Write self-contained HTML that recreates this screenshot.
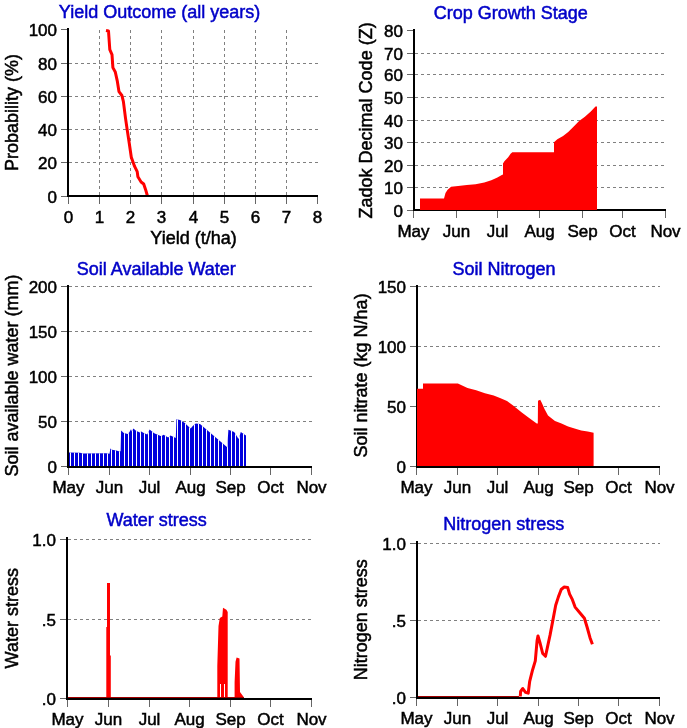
<!DOCTYPE html><html><head><meta charset="utf-8"><style>html,body{margin:0;padding:0;background:#fff;overflow:hidden}svg{display:block;will-change:transform}.t{font-family:"Liberation Sans", sans-serif;font-size:17px;fill:#000;stroke:#000;stroke-width:0.5px} .la{font-family:"Liberation Sans", sans-serif;font-size:18px;fill:#000;stroke:#000;stroke-width:0.5px} .ti{font-family:"Liberation Sans", sans-serif;font-size:18px;fill:#0000c8;stroke:#0000c8;stroke-width:0.5px}</style></head><body>
<svg width="687" height="728" viewBox="0 0 687 728">
<rect width="687" height="728" fill="#fff"/>
<path d="M69 162.5h3M75 162.5h3M81 162.5h3M87 162.5h3M93 162.5h3M99 162.5h3M105 162.5h3M111 162.5h3M117 162.5h3M123 162.5h3M129 162.5h3M135 162.5h3M141 162.5h3M147 162.5h3M153 162.5h3M159 162.5h3M165 162.5h3M171 162.5h3M177 162.5h3M183 162.5h3M189 162.5h3M195 162.5h3M201 162.5h3M207 162.5h3M213 162.5h3M219 162.5h3M225 162.5h3M231 162.5h3M237 162.5h3M243 162.5h3M249 162.5h3M255 162.5h3M261 162.5h3M267 162.5h3M273 162.5h3M279 162.5h3M285 162.5h3M291 162.5h3M297 162.5h3M303 162.5h3M309 162.5h3M315 162.5h3M69 129.5h3M75 129.5h3M81 129.5h3M87 129.5h3M93 129.5h3M99 129.5h3M105 129.5h3M111 129.5h3M117 129.5h3M123 129.5h3M129 129.5h3M135 129.5h3M141 129.5h3M147 129.5h3M153 129.5h3M159 129.5h3M165 129.5h3M171 129.5h3M177 129.5h3M183 129.5h3M189 129.5h3M195 129.5h3M201 129.5h3M207 129.5h3M213 129.5h3M219 129.5h3M225 129.5h3M231 129.5h3M237 129.5h3M243 129.5h3M249 129.5h3M255 129.5h3M261 129.5h3M267 129.5h3M273 129.5h3M279 129.5h3M285 129.5h3M291 129.5h3M297 129.5h3M303 129.5h3M309 129.5h3M315 129.5h3M69 96.5h3M75 96.5h3M81 96.5h3M87 96.5h3M93 96.5h3M99 96.5h3M105 96.5h3M111 96.5h3M117 96.5h3M123 96.5h3M129 96.5h3M135 96.5h3M141 96.5h3M147 96.5h3M153 96.5h3M159 96.5h3M165 96.5h3M171 96.5h3M177 96.5h3M183 96.5h3M189 96.5h3M195 96.5h3M201 96.5h3M207 96.5h3M213 96.5h3M219 96.5h3M225 96.5h3M231 96.5h3M237 96.5h3M243 96.5h3M249 96.5h3M255 96.5h3M261 96.5h3M267 96.5h3M273 96.5h3M279 96.5h3M285 96.5h3M291 96.5h3M297 96.5h3M303 96.5h3M309 96.5h3M315 96.5h3M69 63.5h3M75 63.5h3M81 63.5h3M87 63.5h3M93 63.5h3M99 63.5h3M105 63.5h3M111 63.5h3M117 63.5h3M123 63.5h3M129 63.5h3M135 63.5h3M141 63.5h3M147 63.5h3M153 63.5h3M159 63.5h3M165 63.5h3M171 63.5h3M177 63.5h3M183 63.5h3M189 63.5h3M195 63.5h3M201 63.5h3M207 63.5h3M213 63.5h3M219 63.5h3M225 63.5h3M231 63.5h3M237 63.5h3M243 63.5h3M249 63.5h3M255 63.5h3M261 63.5h3M267 63.5h3M273 63.5h3M279 63.5h3M285 63.5h3M291 63.5h3M297 63.5h3M303 63.5h3M309 63.5h3M315 63.5h3" stroke="#808080" stroke-width="1" fill="none"/>
<path d="M99.5 30v3M99.5 36v3M99.5 42v3M99.5 48v3M99.5 54v3M99.5 60v3M99.5 66v3M99.5 72v3M99.5 78v3M99.5 84v3M99.5 90v3M99.5 96v3M99.5 102v3M99.5 108v3M99.5 114v3M99.5 120v3M99.5 126v3M99.5 132v3M99.5 138v3M99.5 144v3M99.5 150v3M99.5 156v3M99.5 162v3M99.5 168v3M99.5 174v3M99.5 180v3M99.5 186v3M99.5 192v3M130.5 30v3M130.5 36v3M130.5 42v3M130.5 48v3M130.5 54v3M130.5 60v3M130.5 66v3M130.5 72v3M130.5 78v3M130.5 84v3M130.5 90v3M130.5 96v3M130.5 102v3M130.5 108v3M130.5 114v3M130.5 120v3M130.5 126v3M130.5 132v3M130.5 138v3M130.5 144v3M130.5 150v3M130.5 156v3M130.5 162v3M130.5 168v3M130.5 174v3M130.5 180v3M130.5 186v3M130.5 192v3M161.5 30v3M161.5 36v3M161.5 42v3M161.5 48v3M161.5 54v3M161.5 60v3M161.5 66v3M161.5 72v3M161.5 78v3M161.5 84v3M161.5 90v3M161.5 96v3M161.5 102v3M161.5 108v3M161.5 114v3M161.5 120v3M161.5 126v3M161.5 132v3M161.5 138v3M161.5 144v3M161.5 150v3M161.5 156v3M161.5 162v3M161.5 168v3M161.5 174v3M161.5 180v3M161.5 186v3M161.5 192v3M193.5 30v3M193.5 36v3M193.5 42v3M193.5 48v3M193.5 54v3M193.5 60v3M193.5 66v3M193.5 72v3M193.5 78v3M193.5 84v3M193.5 90v3M193.5 96v3M193.5 102v3M193.5 108v3M193.5 114v3M193.5 120v3M193.5 126v3M193.5 132v3M193.5 138v3M193.5 144v3M193.5 150v3M193.5 156v3M193.5 162v3M193.5 168v3M193.5 174v3M193.5 180v3M193.5 186v3M193.5 192v3M224.5 30v3M224.5 36v3M224.5 42v3M224.5 48v3M224.5 54v3M224.5 60v3M224.5 66v3M224.5 72v3M224.5 78v3M224.5 84v3M224.5 90v3M224.5 96v3M224.5 102v3M224.5 108v3M224.5 114v3M224.5 120v3M224.5 126v3M224.5 132v3M224.5 138v3M224.5 144v3M224.5 150v3M224.5 156v3M224.5 162v3M224.5 168v3M224.5 174v3M224.5 180v3M224.5 186v3M224.5 192v3M255.5 30v3M255.5 36v3M255.5 42v3M255.5 48v3M255.5 54v3M255.5 60v3M255.5 66v3M255.5 72v3M255.5 78v3M255.5 84v3M255.5 90v3M255.5 96v3M255.5 102v3M255.5 108v3M255.5 114v3M255.5 120v3M255.5 126v3M255.5 132v3M255.5 138v3M255.5 144v3M255.5 150v3M255.5 156v3M255.5 162v3M255.5 168v3M255.5 174v3M255.5 180v3M255.5 186v3M255.5 192v3M286.5 30v3M286.5 36v3M286.5 42v3M286.5 48v3M286.5 54v3M286.5 60v3M286.5 66v3M286.5 72v3M286.5 78v3M286.5 84v3M286.5 90v3M286.5 96v3M286.5 102v3M286.5 108v3M286.5 114v3M286.5 120v3M286.5 126v3M286.5 132v3M286.5 138v3M286.5 144v3M286.5 150v3M286.5 156v3M286.5 162v3M286.5 168v3M286.5 174v3M286.5 180v3M286.5 186v3M286.5 192v3" stroke="#808080" stroke-width="1" fill="none"/>
<polyline points="106.0,30.5 108.5,31.0 109.8,49.7 112.0,54.7 112.9,67.6 115.3,72.0 117.2,80.6 119.0,91.7 121.9,95.5 123.4,101.6 125.5,118.1 127.4,131.1 129.4,144.2 131.3,157.2 134.6,166.4 137.2,171.6 137.9,176.8 141.1,182.0 143.7,184.0 145.7,189.9 147.3,195.5" fill="none" stroke="#ff0000" stroke-width="3" stroke-linejoin="round" stroke-linecap="butt"/>
<rect x="61" y="196" width="6" height="1" fill="#666"/>
<rect x="61" y="162" width="6" height="1" fill="#666"/>
<rect x="61" y="129" width="6" height="1" fill="#666"/>
<rect x="61" y="96" width="6" height="1" fill="#666"/>
<rect x="61" y="63" width="6" height="1" fill="#666"/>
<rect x="61" y="29" width="6" height="1" fill="#666"/>
<rect x="68" y="197" width="1" height="7" fill="#666"/>
<rect x="99" y="197" width="1" height="7" fill="#666"/>
<rect x="130" y="197" width="1" height="7" fill="#666"/>
<rect x="161" y="197" width="1" height="7" fill="#666"/>
<rect x="193" y="197" width="1" height="7" fill="#666"/>
<rect x="224" y="197" width="1" height="7" fill="#666"/>
<rect x="255" y="197" width="1" height="7" fill="#666"/>
<rect x="286" y="197" width="1" height="7" fill="#666"/>
<rect x="317" y="197" width="1" height="7" fill="#666"/>
<rect x="67" y="28" width="2" height="169" fill="#000"/>
<rect x="67" y="195" width="251" height="2" fill="#000"/>
<text x="57" y="202.8" text-anchor="end" class="t">0</text>
<text x="57" y="168.8" text-anchor="end" class="t">20</text>
<text x="57" y="135.8" text-anchor="end" class="t">40</text>
<text x="57" y="102.8" text-anchor="end" class="t">60</text>
<text x="57" y="69.8" text-anchor="end" class="t">80</text>
<text x="57" y="35.8" text-anchor="end" class="t">100</text>
<text x="68.5" y="222.5" text-anchor="middle" class="t">0</text>
<text x="99.5" y="222.5" text-anchor="middle" class="t">1</text>
<text x="130.5" y="222.5" text-anchor="middle" class="t">2</text>
<text x="161.5" y="222.5" text-anchor="middle" class="t">3</text>
<text x="193.5" y="222.5" text-anchor="middle" class="t">4</text>
<text x="224.5" y="222.5" text-anchor="middle" class="t">5</text>
<text x="255.5" y="222.5" text-anchor="middle" class="t">6</text>
<text x="286.5" y="222.5" text-anchor="middle" class="t">7</text>
<text x="317.5" y="222.5" text-anchor="middle" class="t">8</text>
<text x="159.5" y="17.9" text-anchor="middle" class="ti">Yield Outcome (all years)</text>
<text x="18" y="112.6" transform="rotate(-90 18 112.6)" text-anchor="middle" class="la">Probability (%)</text>
<text x="193.5" y="244" text-anchor="middle" class="la">Yield (t/ha)</text>
<path d="M415 187.5h3M421 187.5h3M427 187.5h3M433 187.5h3M439 187.5h3M445 187.5h3M451 187.5h3M457 187.5h3M463 187.5h3M469 187.5h3M475 187.5h3M481 187.5h3M487 187.5h3M493 187.5h3M499 187.5h3M505 187.5h3M511 187.5h3M517 187.5h3M523 187.5h3M529 187.5h3M535 187.5h3M541 187.5h3M547 187.5h3M553 187.5h3M559 187.5h3M565 187.5h3M571 187.5h3M577 187.5h3M583 187.5h3M589 187.5h3M595 187.5h3M601 187.5h3M607 187.5h3M613 187.5h3M619 187.5h3M625 187.5h3M631 187.5h3M637 187.5h3M643 187.5h3M649 187.5h3M655 187.5h3M661 187.5h3M415 165.5h3M421 165.5h3M427 165.5h3M433 165.5h3M439 165.5h3M445 165.5h3M451 165.5h3M457 165.5h3M463 165.5h3M469 165.5h3M475 165.5h3M481 165.5h3M487 165.5h3M493 165.5h3M499 165.5h3M505 165.5h3M511 165.5h3M517 165.5h3M523 165.5h3M529 165.5h3M535 165.5h3M541 165.5h3M547 165.5h3M553 165.5h3M559 165.5h3M565 165.5h3M571 165.5h3M577 165.5h3M583 165.5h3M589 165.5h3M595 165.5h3M601 165.5h3M607 165.5h3M613 165.5h3M619 165.5h3M625 165.5h3M631 165.5h3M637 165.5h3M643 165.5h3M649 165.5h3M655 165.5h3M661 165.5h3M415 142.5h3M421 142.5h3M427 142.5h3M433 142.5h3M439 142.5h3M445 142.5h3M451 142.5h3M457 142.5h3M463 142.5h3M469 142.5h3M475 142.5h3M481 142.5h3M487 142.5h3M493 142.5h3M499 142.5h3M505 142.5h3M511 142.5h3M517 142.5h3M523 142.5h3M529 142.5h3M535 142.5h3M541 142.5h3M547 142.5h3M553 142.5h3M559 142.5h3M565 142.5h3M571 142.5h3M577 142.5h3M583 142.5h3M589 142.5h3M595 142.5h3M601 142.5h3M607 142.5h3M613 142.5h3M619 142.5h3M625 142.5h3M631 142.5h3M637 142.5h3M643 142.5h3M649 142.5h3M655 142.5h3M661 142.5h3M415 120.5h3M421 120.5h3M427 120.5h3M433 120.5h3M439 120.5h3M445 120.5h3M451 120.5h3M457 120.5h3M463 120.5h3M469 120.5h3M475 120.5h3M481 120.5h3M487 120.5h3M493 120.5h3M499 120.5h3M505 120.5h3M511 120.5h3M517 120.5h3M523 120.5h3M529 120.5h3M535 120.5h3M541 120.5h3M547 120.5h3M553 120.5h3M559 120.5h3M565 120.5h3M571 120.5h3M577 120.5h3M583 120.5h3M589 120.5h3M595 120.5h3M601 120.5h3M607 120.5h3M613 120.5h3M619 120.5h3M625 120.5h3M631 120.5h3M637 120.5h3M643 120.5h3M649 120.5h3M655 120.5h3M661 120.5h3M415 97.5h3M421 97.5h3M427 97.5h3M433 97.5h3M439 97.5h3M445 97.5h3M451 97.5h3M457 97.5h3M463 97.5h3M469 97.5h3M475 97.5h3M481 97.5h3M487 97.5h3M493 97.5h3M499 97.5h3M505 97.5h3M511 97.5h3M517 97.5h3M523 97.5h3M529 97.5h3M535 97.5h3M541 97.5h3M547 97.5h3M553 97.5h3M559 97.5h3M565 97.5h3M571 97.5h3M577 97.5h3M583 97.5h3M589 97.5h3M595 97.5h3M601 97.5h3M607 97.5h3M613 97.5h3M619 97.5h3M625 97.5h3M631 97.5h3M637 97.5h3M643 97.5h3M649 97.5h3M655 97.5h3M661 97.5h3M415 74.5h3M421 74.5h3M427 74.5h3M433 74.5h3M439 74.5h3M445 74.5h3M451 74.5h3M457 74.5h3M463 74.5h3M469 74.5h3M475 74.5h3M481 74.5h3M487 74.5h3M493 74.5h3M499 74.5h3M505 74.5h3M511 74.5h3M517 74.5h3M523 74.5h3M529 74.5h3M535 74.5h3M541 74.5h3M547 74.5h3M553 74.5h3M559 74.5h3M565 74.5h3M571 74.5h3M577 74.5h3M583 74.5h3M589 74.5h3M595 74.5h3M601 74.5h3M607 74.5h3M613 74.5h3M619 74.5h3M625 74.5h3M631 74.5h3M637 74.5h3M643 74.5h3M649 74.5h3M655 74.5h3M661 74.5h3M415 53.5h3M421 53.5h3M427 53.5h3M433 53.5h3M439 53.5h3M445 53.5h3M451 53.5h3M457 53.5h3M463 53.5h3M469 53.5h3M475 53.5h3M481 53.5h3M487 53.5h3M493 53.5h3M499 53.5h3M505 53.5h3M511 53.5h3M517 53.5h3M523 53.5h3M529 53.5h3M535 53.5h3M541 53.5h3M547 53.5h3M553 53.5h3M559 53.5h3M565 53.5h3M571 53.5h3M577 53.5h3M583 53.5h3M589 53.5h3M595 53.5h3M601 53.5h3M607 53.5h3M613 53.5h3M619 53.5h3M625 53.5h3M631 53.5h3M637 53.5h3M643 53.5h3M649 53.5h3M655 53.5h3M661 53.5h3" stroke="#808080" stroke-width="1" fill="none"/>
<rect x="407" y="210" width="6" height="1" fill="#666"/>
<rect x="407" y="187" width="6" height="1" fill="#666"/>
<rect x="407" y="165" width="6" height="1" fill="#666"/>
<rect x="407" y="142" width="6" height="1" fill="#666"/>
<rect x="407" y="120" width="6" height="1" fill="#666"/>
<rect x="407" y="97" width="6" height="1" fill="#666"/>
<rect x="407" y="74" width="6" height="1" fill="#666"/>
<rect x="407" y="53" width="6" height="1" fill="#666"/>
<rect x="407" y="30" width="6" height="1" fill="#666"/>
<rect x="413" y="211" width="1" height="7" fill="#666"/>
<rect x="456" y="211" width="1" height="7" fill="#666"/>
<rect x="497" y="211" width="1" height="7" fill="#666"/>
<rect x="539" y="211" width="1" height="7" fill="#666"/>
<rect x="582" y="211" width="1" height="7" fill="#666"/>
<rect x="622" y="211" width="1" height="7" fill="#666"/>
<rect x="665" y="211" width="1" height="7" fill="#666"/>
<rect x="413" y="29" width="2" height="182" fill="#000"/>
<rect x="413" y="209" width="253" height="2" fill="#000"/>
<polygon points="420.0,210.0 420.0,198.6 444.0,198.6 445.5,193.0 447.6,189.8 451.1,186.8 458.1,185.9 466.8,185.0 475.6,184.2 484.3,182.4 491.3,180.2 497.4,177.6 501.8,175.0 503.0,174.5 503.0,163.4 504.4,161.3 508.2,157.2 510.6,153.7 512.3,152.2 554.0,152.2 554.0,142.2 557.3,139.3 563.1,136.0 568.2,132.0 574.0,126.2 579.1,121.1 584.9,116.7 590.8,111.6 595.5,106.6 597.0,106.4 597.0,210.0" fill="#ff0000"/>
<text x="403" y="216.8" text-anchor="end" class="t">0</text>
<text x="403" y="193.8" text-anchor="end" class="t">10</text>
<text x="403" y="171.8" text-anchor="end" class="t">20</text>
<text x="403" y="148.8" text-anchor="end" class="t">30</text>
<text x="403" y="126.8" text-anchor="end" class="t">40</text>
<text x="403" y="103.8" text-anchor="end" class="t">50</text>
<text x="403" y="80.8" text-anchor="end" class="t">60</text>
<text x="403" y="59.8" text-anchor="end" class="t">70</text>
<text x="403" y="36.8" text-anchor="end" class="t">80</text>
<text x="413.5" y="236.5" text-anchor="middle" class="t">May</text>
<text x="456.5" y="236.5" text-anchor="middle" class="t">Jun</text>
<text x="497.5" y="236.5" text-anchor="middle" class="t">Jul</text>
<text x="539.5" y="236.5" text-anchor="middle" class="t">Aug</text>
<text x="582.5" y="236.5" text-anchor="middle" class="t">Sep</text>
<text x="622.5" y="236.5" text-anchor="middle" class="t">Oct</text>
<text x="665.5" y="236.5" text-anchor="middle" class="t">Nov</text>
<text x="510.8" y="18.6" text-anchor="middle" class="ti">Crop Growth Stage</text>
<text x="372.5" y="120.4" transform="rotate(-90 372.5 120.4)" text-anchor="middle" class="la">Zadok Decimal Code (Z)</text>
<path d="M69 421.5h3M75 421.5h3M81 421.5h3M87 421.5h3M93 421.5h3M99 421.5h3M105 421.5h3M111 421.5h3M117 421.5h3M123 421.5h3M129 421.5h3M135 421.5h3M141 421.5h3M147 421.5h3M153 421.5h3M159 421.5h3M165 421.5h3M171 421.5h3M177 421.5h3M183 421.5h3M189 421.5h3M195 421.5h3M201 421.5h3M207 421.5h3M213 421.5h3M219 421.5h3M225 421.5h3M231 421.5h3M237 421.5h3M243 421.5h3M249 421.5h3M255 421.5h3M261 421.5h3M267 421.5h3M273 421.5h3M279 421.5h3M285 421.5h3M291 421.5h3M297 421.5h3M303 421.5h3M309 421.5h3M69 376.5h3M75 376.5h3M81 376.5h3M87 376.5h3M93 376.5h3M99 376.5h3M105 376.5h3M111 376.5h3M117 376.5h3M123 376.5h3M129 376.5h3M135 376.5h3M141 376.5h3M147 376.5h3M153 376.5h3M159 376.5h3M165 376.5h3M171 376.5h3M177 376.5h3M183 376.5h3M189 376.5h3M195 376.5h3M201 376.5h3M207 376.5h3M213 376.5h3M219 376.5h3M225 376.5h3M231 376.5h3M237 376.5h3M243 376.5h3M249 376.5h3M255 376.5h3M261 376.5h3M267 376.5h3M273 376.5h3M279 376.5h3M285 376.5h3M291 376.5h3M297 376.5h3M303 376.5h3M309 376.5h3M69 331.5h3M75 331.5h3M81 331.5h3M87 331.5h3M93 331.5h3M99 331.5h3M105 331.5h3M111 331.5h3M117 331.5h3M123 331.5h3M129 331.5h3M135 331.5h3M141 331.5h3M147 331.5h3M153 331.5h3M159 331.5h3M165 331.5h3M171 331.5h3M177 331.5h3M183 331.5h3M189 331.5h3M195 331.5h3M201 331.5h3M207 331.5h3M213 331.5h3M219 331.5h3M225 331.5h3M231 331.5h3M237 331.5h3M243 331.5h3M249 331.5h3M255 331.5h3M261 331.5h3M267 331.5h3M273 331.5h3M279 331.5h3M285 331.5h3M291 331.5h3M297 331.5h3M303 331.5h3M309 331.5h3M69 286.5h3M75 286.5h3M81 286.5h3M87 286.5h3M93 286.5h3M99 286.5h3M105 286.5h3M111 286.5h3M117 286.5h3M123 286.5h3M129 286.5h3M135 286.5h3M141 286.5h3M147 286.5h3M153 286.5h3M159 286.5h3M165 286.5h3M171 286.5h3M177 286.5h3M183 286.5h3M189 286.5h3M195 286.5h3M201 286.5h3M207 286.5h3M213 286.5h3M219 286.5h3M225 286.5h3M231 286.5h3M237 286.5h3M243 286.5h3M249 286.5h3M255 286.5h3M261 286.5h3M267 286.5h3M273 286.5h3M279 286.5h3M285 286.5h3M291 286.5h3M297 286.5h3M303 286.5h3M309 286.5h3" stroke="#808080" stroke-width="1" fill="none"/>
<clipPath id="barclip"><polygon points="69.0,466.0 69.0,452.5 80.0,452.8 83.0,453.5 106.0,453.2 109.5,453.8 110.4,448.5 112.1,449.7 116.2,450.6 118.8,451.2 120.6,451.2 121.1,430.5 123.8,433.1 127.8,434.0 129.3,432.2 131.0,429.3 131.9,431.4 133.4,428.4 136.0,430.8 139.8,432.5 141.2,431.6 143.8,433.1 147.3,434.4 149.6,429.6 154.2,433.3 161.2,436.2 163.6,434.7 168.2,437.4 170.5,435.4 175.8,438.0 176.4,419.3 180.0,419.9 184.5,422.8 190.6,428.4 192.8,426.0 195.7,423.6 200.0,424.0 227.2,447.3 228.4,429.8 234.2,432.0 238.6,439.0 240.8,432.0 245.2,435.0 246.0,435.5 246.0,466.0"/></clipPath>
<polygon points="69.0,466.0 69.0,452.5 80.0,452.8 83.0,453.5 106.0,453.2 109.5,453.8 110.4,448.5 112.1,449.7 116.2,450.6 118.8,451.2 120.6,451.2 121.1,430.5 123.8,433.1 127.8,434.0 129.3,432.2 131.0,429.3 131.9,431.4 133.4,428.4 136.0,430.8 139.8,432.5 141.2,431.6 143.8,433.1 147.3,434.4 149.6,429.6 154.2,433.3 161.2,436.2 163.6,434.7 168.2,437.4 170.5,435.4 175.8,438.0 176.4,419.3 180.0,419.9 184.5,422.8 190.6,428.4 192.8,426.0 195.7,423.6 200.0,424.0 227.2,447.3 228.4,429.8 234.2,432.0 238.6,439.0 240.8,432.0 245.2,435.0 246.0,435.5 246.0,466.0" fill="#0000dd"/>
<path d="M70.5 400v66M74.5 400v66M78.5 400v66M82.5 400v66M87.5 400v66M91.5 400v66M95.5 400v66M99.5 400v66M103.5 400v66M107.5 400v66M111.5 400v66M115.5 400v66M119.5 400v66M124.5 400v66M128.5 400v66M132.5 400v66M136.5 400v66M140.5 400v66M144.5 400v66M148.5 400v66M152.5 400v66M157.5 400v66M161.5 400v66M165.5 400v66M169.5 400v66M173.5 400v66M177.5 400v66M181.5 400v66M185.5 400v66M189.5 400v66M194.5 400v66M198.5 400v66M202.5 400v66M206.5 400v66M210.5 400v66M214.5 400v66M218.5 400v66M222.5 400v66M227.5 400v66M231.5 400v66M235.5 400v66M239.5 400v66M243.5 400v66" stroke="#fff" stroke-width="1" clip-path="url(#barclip)"/>
<rect x="61" y="466" width="6" height="1" fill="#666"/>
<rect x="61" y="421" width="6" height="1" fill="#666"/>
<rect x="61" y="376" width="6" height="1" fill="#666"/>
<rect x="61" y="331" width="6" height="1" fill="#666"/>
<rect x="61" y="286" width="6" height="1" fill="#666"/>
<rect x="68" y="468" width="1" height="7" fill="#666"/>
<rect x="109" y="468" width="1" height="7" fill="#666"/>
<rect x="149" y="468" width="1" height="7" fill="#666"/>
<rect x="190" y="468" width="1" height="7" fill="#666"/>
<rect x="230" y="468" width="1" height="7" fill="#666"/>
<rect x="270" y="468" width="1" height="7" fill="#666"/>
<rect x="311" y="468" width="1" height="7" fill="#666"/>
<rect x="67" y="285" width="2" height="183" fill="#000"/>
<rect x="67" y="466" width="245" height="2" fill="#000"/>
<text x="57" y="472.8" text-anchor="end" class="t">0</text>
<text x="57" y="427.8" text-anchor="end" class="t">50</text>
<text x="57" y="382.8" text-anchor="end" class="t">100</text>
<text x="57" y="337.8" text-anchor="end" class="t">150</text>
<text x="57" y="292.8" text-anchor="end" class="t">200</text>
<text x="68.5" y="492.5" text-anchor="middle" class="t">May</text>
<text x="109.5" y="492.5" text-anchor="middle" class="t">Jun</text>
<text x="149.5" y="492.5" text-anchor="middle" class="t">Jul</text>
<text x="190.5" y="492.5" text-anchor="middle" class="t">Aug</text>
<text x="230.5" y="492.5" text-anchor="middle" class="t">Sep</text>
<text x="270.5" y="492.5" text-anchor="middle" class="t">Oct</text>
<text x="311.5" y="492.5" text-anchor="middle" class="t">Nov</text>
<text x="156.3" y="274.8" text-anchor="middle" class="ti">Soil Available Water</text>
<text x="17.5" y="375.5" transform="rotate(-90 17.5 375.5)" text-anchor="middle" class="la">Soil available water (mm)</text>
<path d="M418 406.5h3M424 406.5h3M430 406.5h3M436 406.5h3M442 406.5h3M448 406.5h3M454 406.5h3M460 406.5h3M466 406.5h3M472 406.5h3M478 406.5h3M484 406.5h3M490 406.5h3M496 406.5h3M502 406.5h3M508 406.5h3M514 406.5h3M520 406.5h3M526 406.5h3M532 406.5h3M538 406.5h3M544 406.5h3M550 406.5h3M556 406.5h3M562 406.5h3M568 406.5h3M574 406.5h3M580 406.5h3M586 406.5h3M592 406.5h3M598 406.5h3M604 406.5h3M610 406.5h3M616 406.5h3M622 406.5h3M628 406.5h3M634 406.5h3M640 406.5h3M646 406.5h3M652 406.5h3M658 406.5h2M418 346.5h3M424 346.5h3M430 346.5h3M436 346.5h3M442 346.5h3M448 346.5h3M454 346.5h3M460 346.5h3M466 346.5h3M472 346.5h3M478 346.5h3M484 346.5h3M490 346.5h3M496 346.5h3M502 346.5h3M508 346.5h3M514 346.5h3M520 346.5h3M526 346.5h3M532 346.5h3M538 346.5h3M544 346.5h3M550 346.5h3M556 346.5h3M562 346.5h3M568 346.5h3M574 346.5h3M580 346.5h3M586 346.5h3M592 346.5h3M598 346.5h3M604 346.5h3M610 346.5h3M616 346.5h3M622 346.5h3M628 346.5h3M634 346.5h3M640 346.5h3M646 346.5h3M652 346.5h3M658 346.5h2M418 286.5h3M424 286.5h3M430 286.5h3M436 286.5h3M442 286.5h3M448 286.5h3M454 286.5h3M460 286.5h3M466 286.5h3M472 286.5h3M478 286.5h3M484 286.5h3M490 286.5h3M496 286.5h3M502 286.5h3M508 286.5h3M514 286.5h3M520 286.5h3M526 286.5h3M532 286.5h3M538 286.5h3M544 286.5h3M550 286.5h3M556 286.5h3M562 286.5h3M568 286.5h3M574 286.5h3M580 286.5h3M586 286.5h3M592 286.5h3M598 286.5h3M604 286.5h3M610 286.5h3M616 286.5h3M622 286.5h3M628 286.5h3M634 286.5h3M640 286.5h3M646 286.5h3M652 286.5h3M658 286.5h2" stroke="#808080" stroke-width="1" fill="none"/>
<rect x="410" y="466" width="6" height="1" fill="#666"/>
<rect x="410" y="406" width="6" height="1" fill="#666"/>
<rect x="410" y="346" width="6" height="1" fill="#666"/>
<rect x="410" y="286" width="6" height="1" fill="#666"/>
<rect x="416" y="468" width="1" height="7" fill="#666"/>
<rect x="457" y="468" width="1" height="7" fill="#666"/>
<rect x="497" y="468" width="1" height="7" fill="#666"/>
<rect x="538" y="468" width="1" height="7" fill="#666"/>
<rect x="578" y="468" width="1" height="7" fill="#666"/>
<rect x="618" y="468" width="1" height="7" fill="#666"/>
<rect x="659" y="468" width="1" height="7" fill="#666"/>
<rect x="416" y="285" width="2" height="183" fill="#000"/>
<rect x="416" y="466" width="244" height="2" fill="#000"/>
<polygon points="417.0,466.0 417.0,388.8 423.0,388.8 423.0,383.5 457.9,383.5 467.5,388.1 476.2,390.3 484.9,393.3 493.7,395.5 500.0,398.1 507.0,401.1 513.1,405.5 521.8,412.5 528.8,417.7 536.7,423.4 537.8,423.6 538.0,400.7 540.2,399.8 541.9,402.9 544.5,409.0 548.0,415.5 552.4,419.0 555.0,420.9 561.5,423.5 568.1,426.5 574.6,428.4 581.2,430.4 587.7,431.4 593.6,432.7 593.6,466.0" fill="#ff0000"/>
<text x="406" y="472.8" text-anchor="end" class="t">0</text>
<text x="406" y="412.8" text-anchor="end" class="t">50</text>
<text x="406" y="352.8" text-anchor="end" class="t">100</text>
<text x="406" y="292.8" text-anchor="end" class="t">150</text>
<text x="416.5" y="492.5" text-anchor="middle" class="t">May</text>
<text x="457.5" y="492.5" text-anchor="middle" class="t">Jun</text>
<text x="497.5" y="492.5" text-anchor="middle" class="t">Jul</text>
<text x="538.5" y="492.5" text-anchor="middle" class="t">Aug</text>
<text x="578.5" y="492.5" text-anchor="middle" class="t">Sep</text>
<text x="618.5" y="492.5" text-anchor="middle" class="t">Oct</text>
<text x="659.5" y="492.5" text-anchor="middle" class="t">Nov</text>
<text x="504.1" y="274.9" text-anchor="middle" class="ti">Soil Nitrogen</text>
<text x="366.7" y="375.4" transform="rotate(-90 366.7 375.4)" text-anchor="middle" class="la">Soil nitrate (kg N/ha)</text>
<path d="M68 619.5h3M74 619.5h3M80 619.5h3M86 619.5h3M92 619.5h3M98 619.5h3M104 619.5h3M110 619.5h3M116 619.5h3M122 619.5h3M128 619.5h3M134 619.5h3M140 619.5h3M146 619.5h3M152 619.5h3M158 619.5h3M164 619.5h3M170 619.5h3M176 619.5h3M182 619.5h3M188 619.5h3M194 619.5h3M200 619.5h3M206 619.5h3M212 619.5h3M218 619.5h3M224 619.5h3M230 619.5h3M236 619.5h3M242 619.5h3M248 619.5h3M254 619.5h3M260 619.5h3M266 619.5h3M272 619.5h3M278 619.5h3M284 619.5h3M290 619.5h3M296 619.5h3M302 619.5h3M308 619.5h3M68 539.5h3M74 539.5h3M80 539.5h3M86 539.5h3M92 539.5h3M98 539.5h3M104 539.5h3M110 539.5h3M116 539.5h3M122 539.5h3M128 539.5h3M134 539.5h3M140 539.5h3M146 539.5h3M152 539.5h3M158 539.5h3M164 539.5h3M170 539.5h3M176 539.5h3M182 539.5h3M188 539.5h3M194 539.5h3M200 539.5h3M206 539.5h3M212 539.5h3M218 539.5h3M224 539.5h3M230 539.5h3M236 539.5h3M242 539.5h3M248 539.5h3M254 539.5h3M260 539.5h3M266 539.5h3M272 539.5h3M278 539.5h3M284 539.5h3M290 539.5h3M296 539.5h3M302 539.5h3M308 539.5h3" stroke="#808080" stroke-width="1" fill="none"/>
<polygon points="106.3,698.0 106.3,627.0 107.0,627.0 107.0,583.0 110.0,583.0 110.0,655.6 110.8,655.6 110.8,698.0" fill="#ff0000"/>
<polygon points="217.3,698.0 217.3,665.8 218.5,626.0 219.8,618.0 222.3,616.4 223.0,607.8 226.4,609.8 227.7,612.0 227.7,698.0" fill="#ff0000"/>
<rect x="220" y="684" width="1" height="13" fill="#fff"/><rect x="224" y="684" width="1" height="13" fill="#fff"/>
<polygon points="234.6,698.0 234.6,682.3 235.5,661.7 236.6,657.6 239.5,658.4 240.0,692.0 243.7,697.0 243.7,698.0" fill="#ff0000"/>
<rect x="60" y="698" width="6" height="1" fill="#666"/>
<rect x="60" y="619" width="6" height="1" fill="#666"/>
<rect x="60" y="539" width="6" height="1" fill="#666"/>
<rect x="67" y="700" width="1" height="7" fill="#666"/>
<rect x="108" y="700" width="1" height="7" fill="#666"/>
<rect x="149" y="700" width="1" height="7" fill="#666"/>
<rect x="189" y="700" width="1" height="7" fill="#666"/>
<rect x="230" y="700" width="1" height="7" fill="#666"/>
<rect x="270" y="700" width="1" height="7" fill="#666"/>
<rect x="311" y="700" width="1" height="7" fill="#666"/>
<rect x="66" y="537" width="2" height="163" fill="#000"/>
<rect x="66" y="698" width="246" height="2" fill="#000"/>
<rect x="68" y="697" width="176" height="1" fill="#a00000"/>
<text x="56" y="704.8" text-anchor="end" class="t">.0</text>
<text x="56" y="625.8" text-anchor="end" class="t">.5</text>
<text x="56" y="545.8" text-anchor="end" class="t">1.0</text>
<text x="67.5" y="724.5" text-anchor="middle" class="t">May</text>
<text x="108.5" y="724.5" text-anchor="middle" class="t">Jun</text>
<text x="149.5" y="724.5" text-anchor="middle" class="t">Jul</text>
<text x="189.5" y="724.5" text-anchor="middle" class="t">Aug</text>
<text x="230.5" y="724.5" text-anchor="middle" class="t">Sep</text>
<text x="270.5" y="724.5" text-anchor="middle" class="t">Oct</text>
<text x="311.5" y="724.5" text-anchor="middle" class="t">Nov</text>
<text x="156.6" y="525.6" text-anchor="middle" class="ti">Water stress</text>
<text x="17.8" y="618.2" transform="rotate(-90 17.8 618.2)" text-anchor="middle" class="la">Water stress</text>
<path d="M418 620.5h3M424 620.5h3M430 620.5h3M436 620.5h3M442 620.5h3M448 620.5h3M454 620.5h3M460 620.5h3M466 620.5h3M472 620.5h3M478 620.5h3M484 620.5h3M490 620.5h3M496 620.5h3M502 620.5h3M508 620.5h3M514 620.5h3M520 620.5h3M526 620.5h3M532 620.5h3M538 620.5h3M544 620.5h3M550 620.5h3M556 620.5h3M562 620.5h3M568 620.5h3M574 620.5h3M580 620.5h3M586 620.5h3M592 620.5h3M598 620.5h3M604 620.5h3M610 620.5h3M616 620.5h3M622 620.5h3M628 620.5h3M634 620.5h3M640 620.5h3M646 620.5h3M652 620.5h3M658 620.5h2M418 543.5h3M424 543.5h3M430 543.5h3M436 543.5h3M442 543.5h3M448 543.5h3M454 543.5h3M460 543.5h3M466 543.5h3M472 543.5h3M478 543.5h3M484 543.5h3M490 543.5h3M496 543.5h3M502 543.5h3M508 543.5h3M514 543.5h3M520 543.5h3M526 543.5h3M532 543.5h3M538 543.5h3M544 543.5h3M550 543.5h3M556 543.5h3M562 543.5h3M568 543.5h3M574 543.5h3M580 543.5h3M586 543.5h3M592 543.5h3M598 543.5h3M604 543.5h3M610 543.5h3M616 543.5h3M622 543.5h3M628 543.5h3M634 543.5h3M640 543.5h3M646 543.5h3M652 543.5h3M658 543.5h2" stroke="#808080" stroke-width="1" fill="none"/>
<rect x="410" y="697" width="6" height="1" fill="#666"/>
<rect x="410" y="620" width="6" height="1" fill="#666"/>
<rect x="410" y="543" width="6" height="1" fill="#666"/>
<rect x="416" y="699" width="1" height="7" fill="#666"/>
<rect x="457" y="699" width="1" height="7" fill="#666"/>
<rect x="497" y="699" width="1" height="7" fill="#666"/>
<rect x="538" y="699" width="1" height="7" fill="#666"/>
<rect x="578" y="699" width="1" height="7" fill="#666"/>
<rect x="618" y="699" width="1" height="7" fill="#666"/>
<rect x="659" y="699" width="1" height="7" fill="#666"/>
<rect x="416" y="541" width="2" height="158" fill="#000"/>
<rect x="416" y="697" width="244" height="2" fill="#000"/>
<rect x="418" y="696" width="101" height="1" fill="#a00000"/>
<polyline points="520.3,696.5 520.6,691.5 522.8,688.5 525.5,692.3 528.2,693.2 529.7,681.3 532.5,670.2 535.3,660.9 537.1,640.5 538.0,635.9 539.9,642.4 542.7,653.5 545.5,656.3 547.3,647.9 550.1,634.9 552.9,620.1 555.7,605.3 558.4,596.9 561.2,589.5 564.0,587.1 567.7,587.6 569.6,594.1 572.4,599.7 575.1,607.1 579.8,612.7 584.4,618.2 587.2,627.5 590.0,637.7 592.4,644.2" fill="none" stroke="#ff0000" stroke-width="3" stroke-linejoin="round" stroke-linecap="butt"/>
<text x="406" y="703.8" text-anchor="end" class="t">.0</text>
<text x="406" y="626.8" text-anchor="end" class="t">.5</text>
<text x="406" y="549.8" text-anchor="end" class="t">1.0</text>
<text x="416.5" y="723.5" text-anchor="middle" class="t">May</text>
<text x="457.5" y="723.5" text-anchor="middle" class="t">Jun</text>
<text x="497.5" y="723.5" text-anchor="middle" class="t">Jul</text>
<text x="538.5" y="723.5" text-anchor="middle" class="t">Aug</text>
<text x="578.5" y="723.5" text-anchor="middle" class="t">Sep</text>
<text x="618.5" y="723.5" text-anchor="middle" class="t">Oct</text>
<text x="659.5" y="723.5" text-anchor="middle" class="t">Nov</text>
<text x="503.8" y="529.5" text-anchor="middle" class="ti">Nitrogen stress</text>
<text x="367" y="619.8" transform="rotate(-90 367 619.8)" text-anchor="middle" class="la">Nitrogen stress</text>
</svg></body></html>
